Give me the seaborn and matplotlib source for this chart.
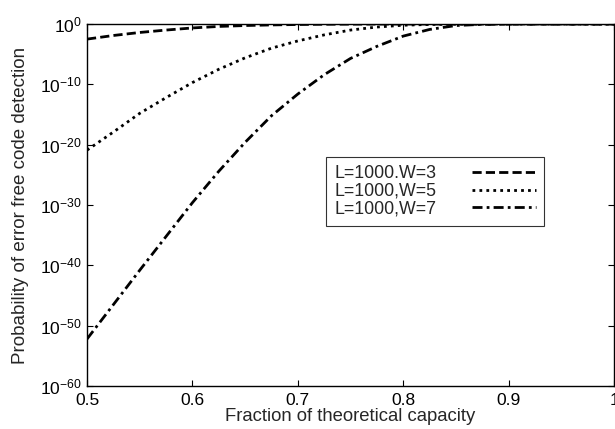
import numpy as np
import pandas as pd
import matplotlib
matplotlib.use('Agg')
import matplotlib.pyplot as plt
import seaborn as sns

# fraction of theoretical capacity
capacity = [0.50, 0.525, 0.55, 0.575, 0.60, 0.625, 0.65, 0.675, 0.70, 0.725,
            0.75, 0.775, 0.80, 0.825, 0.85, 0.875, 0.90, 0.95, 1.00]

# log10 of probability
log_p_w3 = [-2.5, -1.9, -1.4, -1.0, -0.65, -0.4, -0.25, -0.15, -0.08, -0.04,
            -0.02, -0.01, 0.0, 0.0, 0.0, 0.0, 0.0, 0.0, 0.0]
log_p_w5 = [-20.9, -17.9, -14.8, -12.2, -9.7, -7.5, -5.6, -4.0, -2.8, -1.8,
            -1.0, -0.5, -0.2, -0.07, -0.02, 0.0, 0.0, 0.0, 0.0]
log_p_w7 = [-52.2, -46.5, -40.8, -35.2, -29.6, -24.4, -19.6, -15.2, -11.6, -8.4,
            -5.7, -3.7, -2.0, -0.9, -0.25, -0.05, 0.0, 0.0, 0.0]

labels = ['L=1000.W=3', 'L=1000,W=5', 'L=1000,W=7']
y_ticks = [1e-60, 1e-50, 1e-40, 1e-30, 1e-20, 1e-10, 1e0]
x_ticks = [0.5, 0.6, 0.7, 0.8, 0.9, 1.0]
x_ticklabels = ['0.5', '0.6', '0.7', '0.8', '0.9', '1']

frames = []
for lab, vals in zip(labels, [log_p_w3, log_p_w5, log_p_w7]):
    frames.append(pd.DataFrame({'x': capacity,
                                'p': 10.0 ** np.array(vals),
                                'series': lab}))
df = pd.concat(frames, ignore_index=True)

sns.set_style('ticks')
plt.rcParams['font.family'] = ['Liberation Sans', 'DejaVu Sans']
plt.rcParams['mathtext.default'] = 'regular'

fig = plt.figure(figsize=(6.15, 4.29), dpi=100)
ax = fig.add_axes([0.1415, 0.100, 0.857, 0.844])

dashes = {labels[0]: (3.3, 1.5), labels[1]: (1, 1.5), labels[2]: (3.6, 1.5, 1, 1.5)}
sns.lineplot(data=df, x='x', y='p', hue='series', style='series',
             palette=['black'] * 3, dashes=dashes, linewidth=2.0, ax=ax,
             legend=False)

# legend handles, same styles
for lab in labels:
    ax.plot([], [], color='black', linewidth=2.0, dashes=dashes[lab], label=lab)

ax.set_yscale('log')
ax.set_xlim(0.5, 1.0)
ax.set_ylim(1e-60, 1e0)
ax.set_yticks(y_ticks)
ax.yaxis.set_minor_locator(matplotlib.ticker.NullLocator())
ax.set_xticks(x_ticks)
ax.set_xticklabels(x_ticklabels)
ax.tick_params(direction='in', top=True, right=True, length=4, width=0.8,
               labelsize=12.5, colors='black', pad=4)
ax.tick_params(axis='x', pad=5)

for s in ax.spines.values():
    s.set_color('black')
    s.set_linewidth(1.0)

ax.set_xlabel('Fraction of theoretical capacity', fontsize=13.3, labelpad=0)
ax.set_ylabel('Probability of error free code detection', fontsize=13.5, labelpad=8)

leg = ax.legend(loc='upper left', bbox_to_anchor=(0.4535, 0.633), markerfirst=False,
                frameon=True, fancybox=False, fontsize=12.8, handlelength=3.6,
                borderpad=0.45, labelspacing=0.05, handletextpad=2.0,
                borderaxespad=0)
leg.get_frame().set_edgecolor('black')
leg.get_frame().set_linewidth(0.8)

fig.savefig('out.png', dpi=100)
